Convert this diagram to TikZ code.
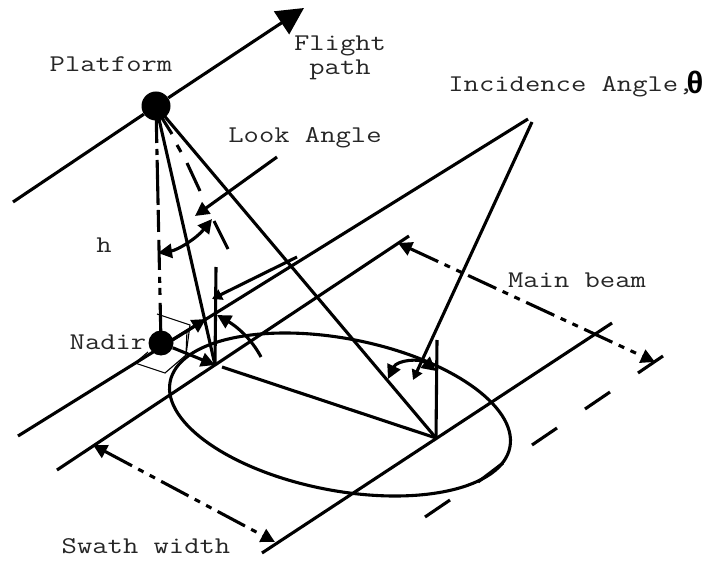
\documentclass[tikz,border=0pt]{standalone}
\usepackage{fontspec}
\setmonofont{Latin Modern Mono}[FakeStretch=1.24]
\newfontfamily\thetafont{Liberation Sans Bold}
\usetikzlibrary{arrows.meta}
\tikzset{
  ln/.style={line width=3.1pt,line cap=butt},
  thinln/.style={line width=1.1pt,line join=miter},
  tip/.style={-{Triangle[length=14pt,width=14pt]}},
  smalltip/.style={-{Triangle[length=10pt,width=11pt]}},
  biarrow/.style={{Triangle[length=14pt,width=14pt]}-{Triangle[length=14pt,width=14pt]}},
  dimln/.style={ln,biarrow,dash pattern=on 31pt off 7pt on 6pt off 7pt on 6pt off 7pt},
  lbl/.style={inner sep=0pt,font=\fontsize{24}{26}\selectfont\ttfamily,text=black!85,anchor=center},
  dot/.style={circle,fill=black,draw=none,inner sep=0pt}
}
\begin{document}
\begin{tikzpicture}[x=1pt,y=-1pt]
\useasboundingbox (0,0) rectangle (706,561);
% named points
\coordinate (fpS) at (13,202);
\coordinate (fpE) at (304,8);
\coordinate (apexL) at (215,365);
\coordinate (apexR) at (436,438);
\coordinate (l1a) at (528,119);
\coordinate (l1b) at (18,436);
\coordinate (l2a) at (409,236);
\coordinate (l2b) at (57,470);
\coordinate (l3a) at (612,323);
\coordinate (l3b) at (262,553);
\node[dot,minimum size=29pt] (plat) at (156,106) {};
\node[dot,minimum size=25pt] (nadir) at (161,343) {};
% thin footprint box
\draw[thinln] (157,314) -- (190,325) -- (186,355) -- (165,373) -- (135,363) -- (148,352);
\draw[thinln] (187,330) -- (186,355);
% ellipse
\draw[ln] (340,414.5) circle[x radius=173pt,y radius=76pt,rotate=-10.9];
% flight path
\draw[ln] (fpS) -- (plat);
\draw[ln,-{Triangle[length=27pt,width=27pt]}] (plat) -- (fpE);
% ground lines
\draw[ln] (l1a) -- (l1b);
\draw[ln] (l2a) -- (l2b);
\draw[ln] (l3a) -- (l3b);
% platform rays
\draw[ln,dash pattern=on 37pt off 6pt on 6pt off 5pt on 45pt off 5pt on 22pt off 8pt on 30pt off 7pt on 6pt off 5pt on 7pt off 8pt on 40pt] (plat.center) -- (nadir.center);
\draw[ln] (plat.center) -- (apexL);
\draw[ln] (plat.center) -- (apexR);
\draw[ln] (162,118) -- (172,134);
\draw[ln] (177,145) -- (181,152);
\draw[ln] (187,163) -- (200,191);
\draw[ln] (214,221) -- (228,249);
% look angle
\coordinate (lookS) at (277,157);
\coordinate (lookE) at (195,216);
\draw[ln,tip] (lookS) -- (lookE);
\coordinate (arcA) at (212,219);
\coordinate (arcB) at (158,253);
\draw[ln,biarrow] (arcA) .. controls (197,238) and (178,250) .. (arcB);
% near-range geometry
\coordinate (vnT) at (216,267);
\draw[ln] (vnT) -- (apexL);
\coordinate (shortS) at (297,257);
\coordinate (shortE) at (212,299);
\draw[ln,smalltip] (shortS) -- (shortE);
\coordinate (curS) at (261,357);
\coordinate (curE) at (217,315);
\draw[ln,tip] (curS) .. controls (251,338) and (236,326) .. (curE);
\coordinate (nadOut) at (172,340);
\coordinate (nadTip) at (206,319);
\draw[ln,tip] (nadOut) -- (nadTip);
\draw[ln,tip] (nadir) -- (apexL);
% far-range geometry
\draw[ln] (apexL) ++(7,2) -- (apexR);
\coordinate (vfT) at (437,340);
\draw[ln] (vfT) -- (apexR);
\coordinate (incS) at (532,122);
\coordinate (incE) at (413,380);
\draw[ln,smalltip] (incS) -- (incE);
\coordinate (farA) at (388,379);
\coordinate (farB) at (436,371);
\draw[ln,biarrow] (farA) .. controls (397,360) and (420,358) .. (farB);
% outer dashed edge
\draw[ln] (663,356) -- (638,373);
\draw[ln] (610,392) -- (585,409);
\draw[ln] (557,428) -- (532,445);
\draw[ln] (503,463) -- (478,482);
\draw[ln] (450,500) -- (425,517);
% dimension arrows
\draw[dimln] (398,243) -- (655,362);
\draw[dimln] (93,445) -- (275,542);
% labels
\node[lbl] (tplat) at (111,64) {Platform};
\node[lbl] (tfl) at (340,46) {Flight};
\node[lbl] (tpa) at (340,70) {path};
\node[lbl] (tlook) at (305,138) {Look Angle};
\node[lbl] (th) at (104,245) {h};
\node[lbl] (tnad) at (108,342) {Nadir};
\node[lbl] (tmain) at (577,280) {Main beam};
\node[lbl] (tsw) at (146,546) {Swath width};
\node[lbl] (tinc) at (571,87) {Incidence Angle,};
\node[inner sep=0pt,font=\thetafont\fontsize{31}{32}\selectfont] (ttheta) at (695,82) {θ};
\end{tikzpicture}
\end{document}
